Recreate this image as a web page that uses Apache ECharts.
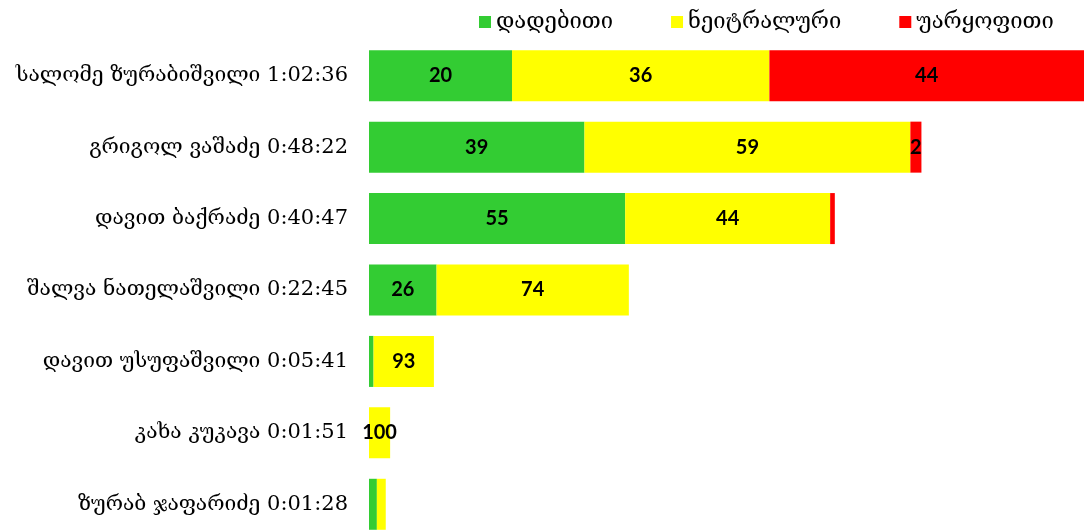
<!DOCTYPE html>
<html>
<head>
<meta charset="utf-8">
<script src="https://cdn.jsdelivr.net/npm/echarts@6/dist/echarts.min.js"></script>
<style>
  html, body { margin: 0; padding: 0; background: #fff; }
  #main { width: 1084px; height: 530px; }
</style>
</head>
<body>
<div id="main"></div>
<script>
// კანდიდატები და ეთერის დრო
const names = ['სალომე ზურაბიშვილი', 'გრიგოლ ვაშაძე', 'დავით ბაქრაძე', 'შალვა ნათელაშვილი', 'დავით უსუფაშვილი', 'კახა კუკავა', 'ზურაბ ჯაფარიძე'];
const times = ['1:02:36', '0:48:22', '0:40:47', '0:22:45', '0:05:41', '0:01:51', '0:01:28'];
// პროცენტები
const positive = [20, 39, 55, 26, 7, 0, 47];
const neutral  = [36, 59, 44, 74, 93, 100, 53];
const negative = [44, 2, 1, 0, 0, 0, 0];
const seriesNames = ['დადებითი', 'ნეიტრალური', 'უარყოფითი'];
const colors = ['#33CC33', '#FFFF00', '#FF0000'];

function toSec(t) {
  const p = t.split(':').map(Number);
  return p[0] * 3600 + p[1] * 60 + p[2];
}
const secs = times.map(toSec);
const cats = names.map((n, i) => n + ' ' + times[i]);

const chart = echarts.init(document.getElementById('main'));

function mkSeries(idx, pct) {
  return {
    name: seriesNames[idx],
    type: 'bar',
    stack: 'total',
    barWidth: 51,
    itemStyle: { color: colors[idx] },
    label: {
      show: true,
      position: 'inside',
      color: '#000',
      fontFamily: 'Lato',
      fontWeight: 'bold',
      fontSize: 20,
      formatter: p => (p.value < 50 ? '' : String(pct[p.dataIndex]))
    },
    data: secs.map((s, i) => s * pct[i] / 100)
  };
}

const option = {
  animation: false,
  legend: {
    top: 6,
    left: 474,
    icon: 'rect',
    itemWidth: 12,
    itemHeight: 12,
    itemGap: 58,
    textStyle: { fontFamily: 'DejaVu Serif', fontSize: 22, color: '#000' },
    data: seriesNames
  },
  grid: { left: 369, width: 715, top: 40, height: 500, outerBoundsMode: 'none' },
  xAxis: {
    type: 'value',
    min: 0,
    max: Math.max(...secs),
    show: false
  },
  yAxis: {
    type: 'category',
    inverse: true,
    data: cats,
    axisLine: { show: false },
    axisTick: { show: false },
    axisLabel: {
      margin: 21,
      fontFamily: 'DejaVu Serif',
      fontSize: 21,
      color: '#000'
    }
  },
  series: [mkSeries(0, positive), mkSeries(1, neutral), mkSeries(2, negative)]
};

chart.setOption(option);
</script>
</body>
</html>
